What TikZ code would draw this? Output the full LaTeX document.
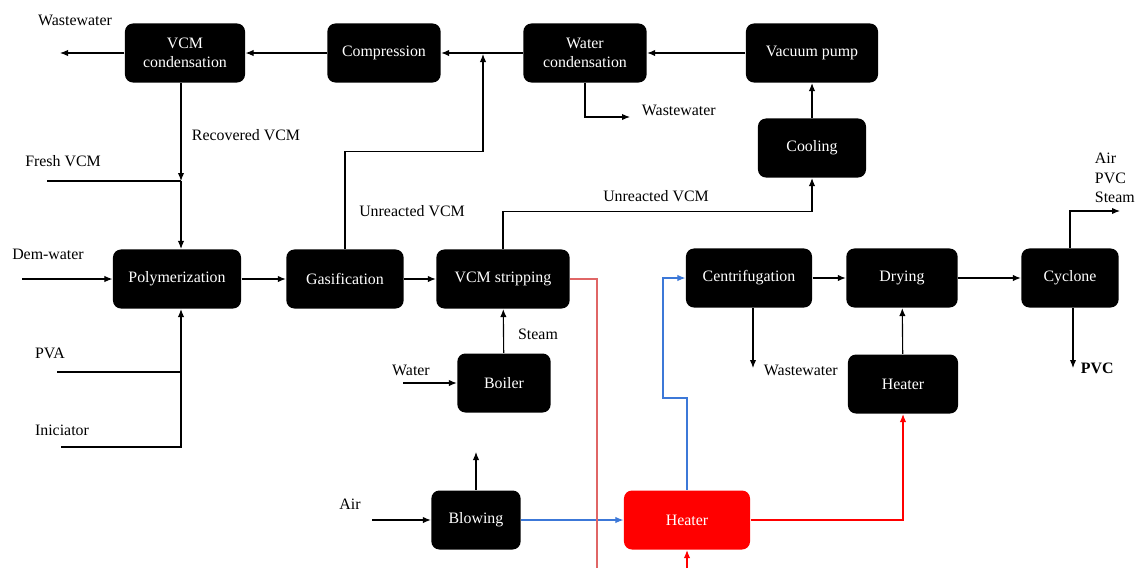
\documentclass[tikz,border=0pt]{standalone}
\usepackage{fontspec}
\setmainfont{Liberation Serif}
\usepackage{tikz}
\usetikzlibrary{positioning,arrows.meta,calc}
\definecolor{stripred}{RGB}{224,102,102}
\definecolor{airblue}{RGB}{60,120,216}
\definecolor{hotred}{RGB}{255,0,0}
\tikzset{
  >={Latex[length=2mm,width=1.6mm]},
  procbox/.style={draw=none,fill=black,text=white,rounded corners=0.2cm,
    minimum height=1.475cm,align=center,inner sep=2pt,
    font=\rmfamily\fontsize{11.3}{13.6}\selectfont},
  flowtext/.style={font=\rmfamily\fontsize{11.3}{13.8}\selectfont,inner sep=1pt},
}

\begin{document}
\begin{tikzpicture}[x=0.025cm,y=-0.025cm,line width=0.8pt]
\useasboundingbox (0,0) rectangle (1140,568);

% top row
\node[procbox,minimum width=3cm] (vcmcond) at (185,53) {VCM\\condensation};
\node[procbox,minimum width=2.83cm] (compr) at (384,53) {Compression};
\node[procbox,minimum width=3.08cm] (watercond) at (585,53) {Water\\condensation};
\node[procbox,minimum width=3.3cm] (vacpump) at (812,53) {Vacuum pump};
\node[procbox,minimum width=2.7cm] (cooling) at (812,148) {Cooling};

% main line
\node[procbox,minimum width=3.2cm] (polym) at (177,279) {Polymerization};
\node[procbox,minimum width=2.93cm] (gasif) at (345,279) {Gasification};
\node[procbox,minimum width=3.33cm] (strip) at (503,279) {VCM stripping};
\node[procbox,minimum width=3.15cm] (centrif) at (749,278) {Centrifugation};
\node[procbox,minimum width=2.78cm] (drying) at (902,278) {Drying};
\node[procbox,minimum width=2.43cm] (cyclone) at (1070,278) {Cyclone};

% utilities
\node[procbox,minimum width=2.33cm] (boiler) at (504,383) {Boiler};
\node[procbox,minimum width=2.75cm] (heaterd) at (903,384) {Heater};
\node[procbox,minimum width=2.23cm] (blowing) at (476,520) {Blowing};
\node[procbox,fill=hotred,minimum width=3.15cm] (heater) at (687,520) {Heater};

% free ends
\coordinate (ww1) at (60,53);
\coordinate (recyc) at (483,54);
\coordinate (ww2) at (630,117);
\coordinate (fresh) at (181,181);
\coordinate (freshin) at (47,181);
\coordinate (demin) at (22,279);
\coordinate (pvain) at (57,372);
\coordinate (iniin) at (61,447);
\coordinate (waterin) at (403,383);
\coordinate (airin) at (372,520);
\coordinate (blowout) at (476,452);
\coordinate (stripout) at (597,568);
\coordinate (heatin) at (687,568);
\coordinate (ww3) at (753,368);
\coordinate (cycout) at (1120,211);
\coordinate (pvcout) at (1073,368);

% labels
\node[flowtext] (lww1) at (75,20) {Wastewater};
\node[flowtext] (lrec) at (246,135) {Recovered VCM};
\node[flowtext] (lfresh) at (63,161) {Fresh VCM};
\node[flowtext] (ldem) at (48,254) {Dem-water};
\node[flowtext] (lpva) at (50,353) {PVA};
\node[flowtext] (lini) at (62,430) {Iniciator};
\node[flowtext] (lunr1) at (412,211) {Unreacted VCM};
\node[flowtext] (lunr2) at (656,196) {Unreacted VCM};
\node[flowtext,anchor=west] (lww2) at (640,110) {Wastewater};
\node[flowtext] (lsteam) at (538,334) {Steam};
\node[flowtext] (lwater) at (411,370) {Water};
\node[flowtext] (lair) at (350,504) {Air};
\node[flowtext,anchor=west] (lww3) at (762,370) {Wastewater};
\node[flowtext,anchor=west,align=left] (lcyc) at (1093,178) {Air\\PVC\\Steam};
\node[flowtext,anchor=west,font=\rmfamily\fontsize{11.3}{13.8}\selectfont\bfseries] (lpvc) at (1079,368) {PVC};

% recovery loop
\draw[->] (compr) -- (vcmcond);
\draw[->] (vcmcond) -- (ww1);
\draw[->] (watercond) -- (compr);
\draw[->] (vacpump) -- (watercond);
\draw[->] (cooling) -- (vacpump);
\draw[->] (gasif.north) -- ++(0,-97) -| (recyc);
\draw[->] (watercond.south) |- (ww2);
\draw[->] (strip.north) -- ++(0,-37) -| (cooling.south);

% feeds
\draw[->] (vcmcond.south -| fresh) -- (fresh);
\draw[->] (fresh) -- (polym.north -| fresh);
\draw (freshin) -- (fresh);
\draw[->] (demin) -- (polym);
\draw (pvain) -- (pvain -| fresh);
\draw[->] (iniin) -| (fresh |- polym.south);

% process line
\draw[->] (polym) -- (gasif);
\draw[->] (gasif) -- (strip);
\draw[->] (boiler) -- (strip);
\draw[->] (waterin) -- (boiler);
\draw[->] (airin) -- (blowing);
\draw[->] (blowing) -- (blowout);
\draw[->,airblue] (blowing) -- (heater);
\draw[stripred,line width=1pt] (strip.east) -| (stripout);
\draw[->,airblue] (heater.north) |- ++(-24,-92) |- (centrif.west);
\draw[->,hotred] (heater.east) -| (heaterd.south);
\draw[->,hotred] (heatin) -- (heater.south);
\draw[->] (centrif) -- (drying);
\draw[->] (centrif.south -| ww3) -- (ww3);
\draw[->] (heaterd) -- (drying);
\draw[->] (drying) -- (cyclone);
\draw[->] (cyclone.north) |- (cycout);
\draw[->] (cyclone.south -| pvcout) -- (pvcout);
\end{tikzpicture}
\end{document}
